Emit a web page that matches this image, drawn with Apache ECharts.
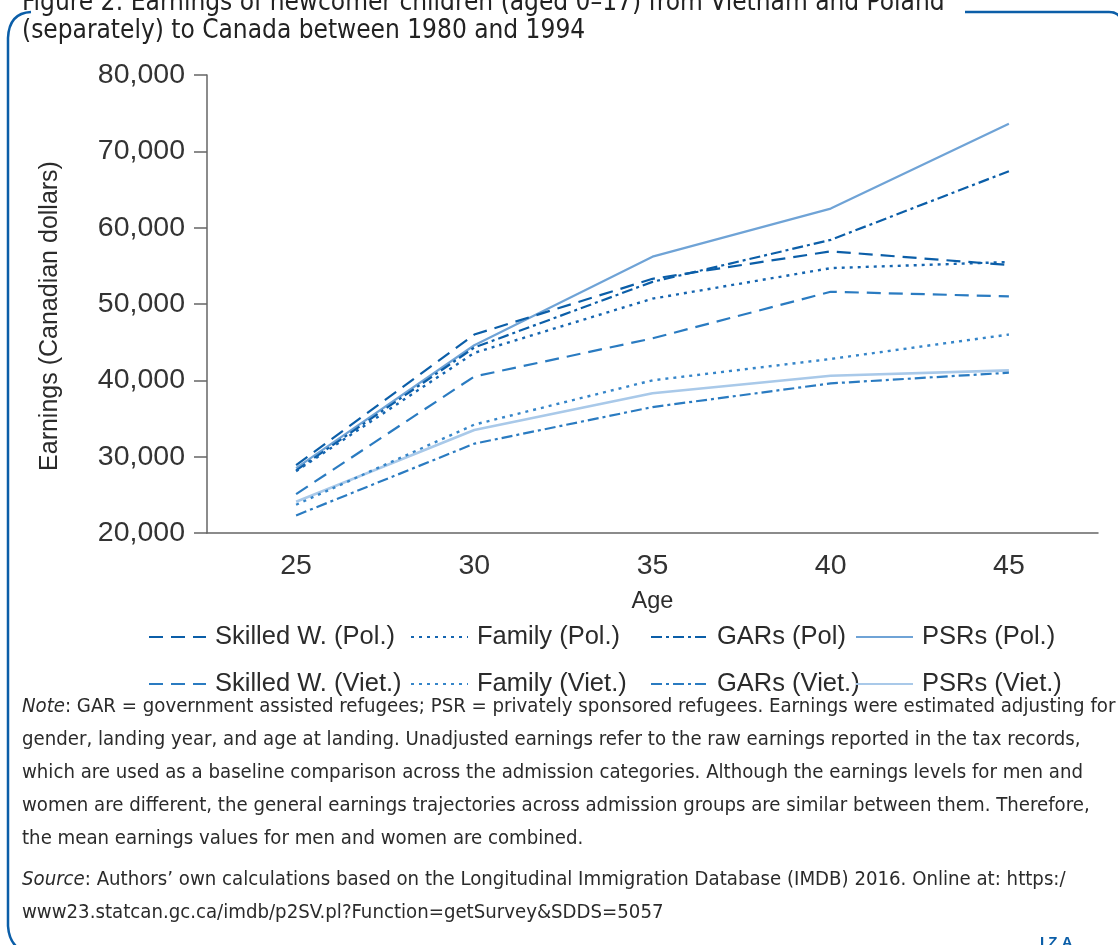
<!DOCTYPE html>
<html>
<head>
<meta charset="utf-8">
<script src="https://cdn.jsdelivr.net/npm/echarts@6/dist/echarts.min.js"></script>
<style>
html,body{margin:0;padding:0;background:#fff;}
#c{width:1118px;height:945px;}
</style>
</head>
<body>
<div id="c"></div>
<script>
const ages = ['25', '30', '35', '40', '45'];
const seriesNames = ['Skilled W. (Pol.)', 'Family (Pol.)', 'GARs (Pol)', 'PSRs (Pol.)',
                     'Skilled W. (Viet.)', 'Family (Viet.)', 'GARs (Viet.)', 'PSRs (Viet.)'];
const skilledPol  = [28900, 46000, 53300, 56900, 55100];
const familyPol   = [28100, 43600, 50700, 54700, 55500];
const garsPol     = [28200, 44300, 52900, 58400, 67400];
const psrsPol     = [28500, 44600, 56200, 62500, 73600];
const skilledViet = [25100, 40500, 45500, 51600, 51000];
const familyViet  = [23700, 34200, 40000, 42800, 46000];
const garsViet    = [22300, 31700, 36500, 39600, 41000];
const psrsViet    = [24100, 33500, 38300, 40600, 41300];
const yTicks = { min: 20000, max: 80000, interval: 10000 };

const values = [skilledPol, familyPol, garsPol, psrsPol, skilledViet, familyViet, garsViet, psrsViet];
const colors = ['#0b5ea8', '#1565b0', '#0b5ea8', '#6fa3d6', '#2a7bc1', '#3585c9', '#2a7bc1', '#a9c9e9'];
const dash = [14, 8];
const dot = [3, 5];
const dashDot = [11, 4, 3, 4];
const types = [dash, dot, dashDot, 'solid', dash, dot, dashDot, 'solid'];
const widths = [2.2, 2.4, 2.2, 2.2, 2.2, 2.4, 2.2, 2.6];

const FONT = '"Liberation Sans", Arial, sans-serif';
const NARROW = '"Liberation Sans Narrow", "DejaVu Sans Condensed", sans-serif';

const chart = echarts.init(document.getElementById('c'), null, { renderer: 'canvas' });

const series = seriesNames.map((n, i) => ({
  name: n,
  type: 'line',
  data: values[i],
  symbol: 'none',
  smooth: false,
  z: 10 - i,
  lineStyle: { color: colors[i], width: widths[i], type: types[i] },
  itemStyle: { color: colors[i] }
}));

const colX = [148, 410, 650, 855];
const legends = colX.map((x, c) => ({
  orient: 'vertical',
  left: x,
  top: 624,
  itemWidth: 57,
  itemHeight: 14,
  itemGap: 21,
  padding: 0,
  itemStyle: { opacity: 0 },
  data: [seriesNames[c], seriesNames[c + 4]],
  textStyle: { fontFamily: FONT, fontSize: 25.5, color: '#2b2b2b', padding: [0, 0, 0, 4] }
}));

const noteText =
  '{i|Note}: GAR = government assisted refugees; PSR = privately sponsored refugees. Earnings were estimated adjusting for\n' +
  'gender, landing year, and age at landing. Unadjusted earnings refer to the raw earnings reported in the tax records,\n' +
  'which are used as a baseline comparison across the admission categories. Although the earnings levels for men and\n' +
  'women are different, the general earnings trajectories across admission groups are similar between them. Therefore,\n' +
  'the mean earnings values for men and women are combined.';
const sourceText =
  '{i|Source}: Authors\u2019 own calculations based on the Longitudinal Immigration Database (IMDB) 2016. Online at: https:/\n' +
  'www23.statcan.gc.ca/imdb/p2SV.pl?Function=getSurvey&SDDS=5057';

const frameStyle = { stroke: '#0b5ea8', lineWidth: 2.5, fill: null };
const noteRich = { i: { fontStyle: 'italic', fontFamily: NARROW, fontSize: 20.2, lineHeight: 33, fill: '#2b2b2b' } };

const option = {
  backgroundColor: '#ffffff',
  animation: false,
  grid: { left: 207, right: 20, top: 75, bottom: 412, containLabel: false },
  legend: legends,
  xAxis: {
    type: 'category',
    data: ages,
    boundaryGap: true,
    name: 'Age',
    nameLocation: 'middle',
    nameGap: 57,
    nameTextStyle: { fontFamily: FONT, fontSize: 23.5, color: '#2b2b2b' },
    axisLine: { lineStyle: { color: '#666', width: 1.5 } },
    axisTick: { alignWithLabel: true, length: 14, lineStyle: { color: '#666', width: 1.5 } },
    axisLabel: { fontFamily: FONT, fontSize: 28.5, color: '#333', margin: 19 },
    splitLine: { show: false }
  },
  yAxis: {
    type: 'value',
    min: yTicks.min,
    max: yTicks.max,
    interval: yTicks.interval,
    axisLine: { show: true, lineStyle: { color: '#666', width: 1.5 } },
    axisTick: { show: true, length: 13, lineStyle: { color: '#666', width: 1.5 } },
    axisLabel: {
      fontFamily: FONT, fontSize: 28.5, color: '#333', margin: 22,
      formatter: v => v.toLocaleString('en-US')
    },
    splitLine: { show: false }
  },
  series: series,
  graphic: [
    { type: 'bezierCurve', shape: { x1: 31, y1: 12, cpx1: 9, cpy1: 13, x2: 8, y2: 38 }, style: frameStyle },
    { type: 'line', shape: { x1: 8, y1: 38, x2: 8, y2: 926 }, style: frameStyle },
    { type: 'bezierCurve', shape: { x1: 8, y1: 926, cpx1: 9, cpy1: 941, x2: 18, y2: 948 }, style: frameStyle },
    { type: 'line', shape: { x1: 965, y1: 12, x2: 1109, y2: 12 }, style: frameStyle },
    { type: 'bezierCurve', shape: { x1: 1109, y1: 12, cpx1: 1116, cpy1: 12, x2: 1119, y2: 16 }, style: frameStyle },
    {
      type: 'text',
      x: 50, y: 316,
      rotation: Math.PI / 2,
      style: {
        text: 'Earnings (Canadian dollars)',
        font: '25px ' + FONT,
        fill: '#2b2b2b',
        align: 'center',
        verticalAlign: 'middle'
      }
    },
    {
      type: 'text',
      left: 22, top: -11,
      style: {
        text: 'Figure 2: Earnings of newcomer children (aged 0\u201317) from Vietnam and Poland\n(separately) to Canada between 1980 and 1994',
        font: '26px ' + NARROW,
        lineHeight: 28,
        fill: '#222'
      }
    },
    {
      type: 'text',
      left: 22, top: 690,
      style: {
        text: noteText,
        font: '20.2px ' + NARROW,
        lineHeight: 33,
        fill: '#2b2b2b',
        rich: noteRich
      }
    },
    {
      type: 'text',
      left: 22, top: 863,
      style: {
        text: sourceText,
        font: '20.2px ' + NARROW,
        lineHeight: 33,
        fill: '#2b2b2b',
        rich: noteRich
      }
    },
    {
      type: 'text',
      left: 1040, top: 935,
      style: { text: 'I Z A', font: 'bold 15px ' + FONT, fill: '#0b5ea8' }
    }
  ]
};
chart.setOption(option);
</script>
</body>
</html>
